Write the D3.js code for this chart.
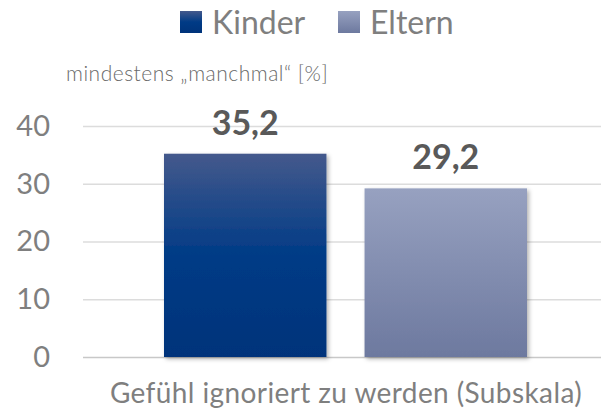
<!DOCTYPE html>
<html>
<head>
<meta charset="utf-8">
<script src="https://cdn.jsdelivr.net/npm/d3@7"></script>
<style>
  html, body { margin: 0; padding: 0; background: #fff; }
  svg text { font-family: Lato, "Open Sans", sans-serif; }
</style>
</head>
<body>
<div id="chart"></div>
<script>
// data
var categories = ['Gefühl ignoriert zu werden (Subskala)'];
var seriesNames = ['Kinder', 'Eltern'];
var kinderValues = [35.2];
var elternValues = [29.2];
var yTicks = [0, 10, 20, 30, 40];
var axisTitle = 'mindestens „manchmal“ [%]';

var width = 601, height = 414;

var svg = d3.select('#chart').append('svg')
  .attr('width', width)
  .attr('height', height);

var defs = svg.append('defs');

function grad(id, stops) {
  var g = defs.append('linearGradient')
    .attr('id', id).attr('x1', 0).attr('y1', 0).attr('x2', 0).attr('y2', 1);
  stops.forEach(function(s) {
    g.append('stop').attr('offset', s[0]).attr('stop-color', s[1]);
  });
}
grad('gKinder', [[0, '#44598c'], [0.5, '#003b86'], [1, '#00337a']]);
grad('gEltern', [[0, '#97a1c0'], [1, '#6d799f']]);

var shadow = defs.append('filter').attr('id', 'shadow')
  .attr('x', '-10%').attr('y', '-10%').attr('width', '130%').attr('height', '130%');
shadow.append('feDropShadow')
  .attr('dx', 2).attr('dy', 2).attr('stdDeviation', 2)
  .attr('flood-color', '#000').attr('flood-opacity', 0.3);

var y = d3.scaleLinear().domain([0, 40]).range([357, 126]);

var x0 = d3.scaleBand().domain(categories).range([83, 607]).paddingInner(0).paddingOuter(0);
var x1 = d3.scaleBand().domain(seriesNames).range([81, 444]).paddingInner(0.19).paddingOuter(0);

var colors = { Kinder: 'url(#gKinder)', Eltern: 'url(#gEltern)' };

// gridlines
svg.append('g').selectAll('line').data(yTicks).enter().append('line')
  .attr('x1', 83).attr('x2', width)
  .attr('y1', function(d) { return y(d) + 0.5; })
  .attr('y2', function(d) { return y(d) + 0.5; })
  .attr('stroke', function(d) { return d === 0 ? '#c8c8c8' : '#dcdcdc'; })
  .attr('stroke-width', 1.5);

// y axis labels
var yAxis = d3.axisLeft(y).tickValues(yTicks).tickSize(0).tickPadding(0);
var ya = svg.append('g').attr('transform', 'translate(50,0)').call(yAxis);
ya.select('.domain').remove();
ya.selectAll('text')
  .attr('fill', '#7f7f7f')
  .style('font-size', '29px')
  .style('font-family', 'Lato, sans-serif');

// bars
var rows = categories.map(function(c, i) {
  return { cat: c, vals: [
    { name: 'Kinder', value: kinderValues[i] },
    { name: 'Eltern', value: elternValues[i] }
  ] };
});

var groups = svg.selectAll('g.cat').data(rows).enter().append('g')
  .attr('class', 'cat')
  .attr('transform', function(d) { return 'translate(' + x0(d.cat) + ',0)'; });

groups.selectAll('rect').data(function(d) { return d.vals; }).enter().append('rect')
  .attr('x', function(d) { return x1(d.name); })
  .attr('width', x1.bandwidth())
  .attr('y', function(d) { return y(d.value); })
  .attr('height', function(d) { return y(0) - y(d.value); })
  .attr('fill', function(d) { return colors[d.name]; })
  .attr('filter', 'url(#shadow)');

groups.selectAll('text.val').data(function(d) { return d.vals; }).enter().append('text')
  .attr('class', 'val')
  .attr('x', function(d) { return x1(d.name) + x1.bandwidth() / 2; })
  .attr('y', function(d) { return y(d.value) - 19; })
  .attr('text-anchor', 'middle')
  .attr('fill', '#595959')
  .style('font-size', '34px')
  .style('font-weight', 'bold')
  .text(function(d) { return d3.format('.1f')(d.value).replace('.', ','); });

// x axis label
var xAxis = d3.axisBottom(x0).tickSize(0).tickPadding(0);
var xa = svg.append('g').attr('transform', 'translate(0,403)').call(xAxis);
xa.select('.domain').remove();
xa.selectAll('text')
  .attr('dy', 0)
  .attr('x', 1)
  .attr('fill', '#7f7f7f')
  .style('font-size', '28px')
  .style('letter-spacing', '0.4px')
  .style('font-family', 'Lato, sans-serif');

// axis title
svg.append('text')
  .attr('x', 66).attr('y', 81)
  .attr('fill', '#6a6a6a')
  .style('font-size', '21px')
  .style('font-weight', 300)
  .style('letter-spacing', '0.5px')
  .text(axisTitle);

// legend
var legendX = { Kinder: 180, Eltern: 338 };
var lg = svg.selectAll('g.legend').data(seriesNames).enter().append('g')
  .attr('class', 'legend')
  .attr('transform', function(d) { return 'translate(' + legendX[d] + ',11)'; });
lg.append('rect').attr('width', 22).attr('height', 22)
  .attr('fill', function(d) { return colors[d]; });
lg.append('text')
  .attr('x', 32).attr('y', 22.5)
  .attr('fill', '#7f7f7f')
  .style('font-size', '32px')
  .text(function(d) { return d; });
</script>
</body>
</html>
